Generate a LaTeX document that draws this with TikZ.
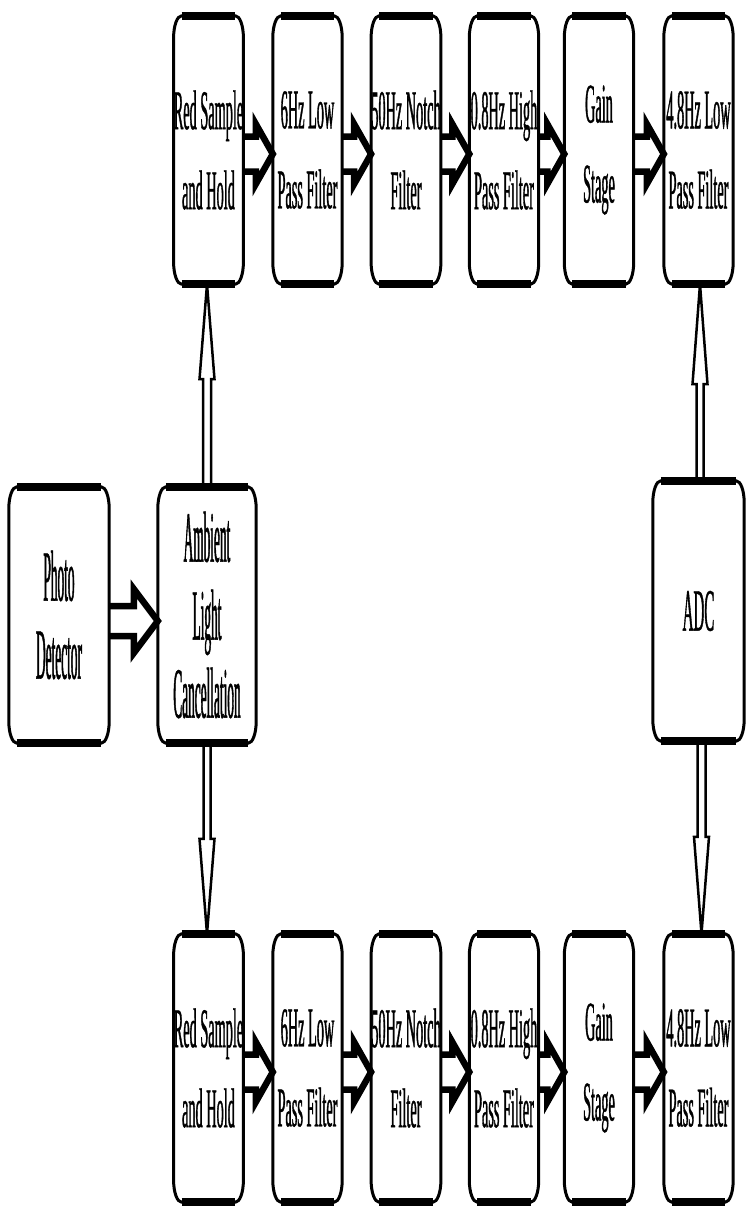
\documentclass[tikz,border=0pt]{standalone}
\usepackage{fontspec}
\usetikzlibrary{calc}
\newfontfamily\rowfont[FakeStretch=0.255,FakeBold=0.6]{Liberation Serif}
\newfontfamily\midfont[FakeStretch=0.185,FakeBold=0.6]{Liberation Serif}
\newfontfamily\adcfont[FakeStretch=0.25,FakeBold=0.6]{Liberation Serif}
\newcommand\crx{8}
\newcommand\cry{22}
\newcommand\DrawBlk[1]{%
 \draw[blkside] ($(#1.south west)+(0,\cry)$) -- ($(#1.north west)+(0,-\cry)$)
   arc[start angle=180,end angle=90,x radius=\crx,y radius=\cry]
   -- ($(#1.north east)+(-\crx,0)$)
   arc[start angle=90,end angle=0,x radius=\crx,y radius=\cry]
   -- ($(#1.south east)+(0,\cry)$)
   arc[start angle=0,end angle=-90,x radius=\crx,y radius=\cry]
   -- ($(#1.south west)+(\crx,0)$)
   arc[start angle=270,end angle=180,x radius=\crx,y radius=\cry] -- cycle;
 \draw[blkbar] ($(#1.north west)+(\crx,0)$) -- ($(#1.north east)+(-\crx,0)$);
 \draw[blkbar] ($(#1.south west)+(\crx,0)$) -- ($(#1.south east)+(-\crx,0)$);}
% horizontal block arrow: from, to, dy, shaft half, head half, head length
\newcommand\HArr[6]{%
 \draw[harr] let \p1=(#1.east), \p2=(#2.west) in
  (\x1,{\y1+(#3)-#4}) -- ({\x2-#6},{\y1+(#3)-#4}) -- ({\x2-#6},{\y1+(#3)-#5})
  -- (\x2,{\y1+(#3)}) -- ({\x2-#6},{\y1+(#3)+#5}) -- ({\x2-#6},{\y1+(#3)+#4})
  -- (\x1,{\y1+(#3)+#4});}
% vertical block arrows: from anchor, to anchor, shaft half, head half, head length
\newcommand\VUp[5]{%
 \draw[varr] let \p1=(#1), \p2=(#2) in
  ({\x1-#3},\y1) -- ({\x1-#3},{\y2-#5}) -- ({\x1-#4},{\y2-#5}) -- (\x1,\y2)
  -- ({\x1+#4},{\y2-#5}) -- ({\x1+#3},{\y2-#5}) -- ({\x1+#3},\y1);}
\newcommand\VDown[5]{%
 \draw[varr] let \p1=(#1), \p2=(#2) in
  ({\x1-#3},\y1) -- ({\x1-#3},{\y2+#5}) -- ({\x1-#4},{\y2+#5}) -- (\x1,\y2)
  -- ({\x1+#4},{\y2+#5}) -- ({\x1+#3},{\y2+#5}) -- ({\x1+#3},\y1);}
\begin{document}
\begin{tikzpicture}[x=1pt,y=1pt,
  blk/.style={rectangle, draw=none, inner sep=0pt, align=center, text=black},
  rowblk/.style={blk, minimum width=69pt, minimum height=268pt,
     font=\rowfont\fontsize{56}{80}\selectfont},
  midblk/.style={blk, minimum height=256pt,
     font=\midfont\fontsize{72}{78}\selectfont},
  adcblk/.style={blk, minimum width=91pt, minimum height=260pt,
     font=\adcfont\fontsize{60}{60}\selectfont},
  blkside/.style={draw=black, line width=3pt},
  blkbar/.style={draw=black, line width=8pt, line cap=butt},
  harr/.style={draw=black, fill=white, line width=6.5pt, line join=miter},
  varr/.style={draw=black, fill=white, line width=2.5pt, line join=miter}]
\fill[white] (0,0) rectangle (747,-1211);
\useasboundingbox (0,0) rectangle (747,-1211);

% top row
\node[rowblk] (t1) at (208.5,-150) {Red Sample\\and Hold};
\node[rowblk] (t2) at (307.5,-150) {6Hz Low\\Pass Filter};
\node[rowblk] (t3) at (406,-150) {50Hz Notch\\Filter};
\node[rowblk] (t4) at (504,-150) {0.8Hz High\\Pass Filter};
\node[rowblk] (t5) at (599,-150) {Gain\\Stage};
\node[rowblk] (t6) at (698.5,-150) {4.8Hz Low\\Pass Filter};
% bottom row
\node[rowblk] (b1) at (208.5,-1068) {Red Sample\\and Hold};
\node[rowblk] (b2) at (307.5,-1068) {6Hz Low\\Pass Filter};
\node[rowblk] (b3) at (406,-1068) {50Hz Notch\\Filter};
\node[rowblk] (b4) at (504,-1068) {0.8Hz High\\Pass Filter};
\node[rowblk] (b5) at (599,-1068) {Gain\\Stage};
\node[rowblk] (b6) at (698.5,-1068) {4.8Hz Low\\Pass Filter};
% middle
\node[midblk, minimum width=100pt] (pd) at (59,-615) {Photo\\Detector};
\node[midblk, minimum width=98pt] (alc) at (207,-615) {Ambient\\Light\\Cancellation};
\node[adcblk] (adc) at (698.5,-611) {ADC};

% arrows
\foreach \a/\b in {t1/t2,t2/t3,t3/t4,t4/t5,t5/t6,b1/b2,b2/b3,b3/b4,b4/b5,b5/b6}
  {\HArr{\a}{\b}{-4pt}{17.5pt}{30pt}{17pt}}
\HArr{pd}{alc}{-6pt}{15pt}{32pt}{24pt}
\VUp{alc.north}{t1.south}{4pt}{7.5pt}{95pt}
\VDown{alc.south}{b1.north}{3.5pt}{7.5pt}{95pt}
\VUp{$(adc.north)+(1.5,0)$}{t6.south}{3.5pt}{7.5pt}{100pt}
\VDown{$(adc.south)+(3,0)$}{b6.north}{4pt}{7.5pt}{97pt}

% outlines
\foreach \n in {t1,t2,t3,t4,t5,t6,b1,b2,b3,b4,b5,b6,pd,alc,adc}
  {\DrawBlk{\n}}
\end{tikzpicture}
\end{document}
